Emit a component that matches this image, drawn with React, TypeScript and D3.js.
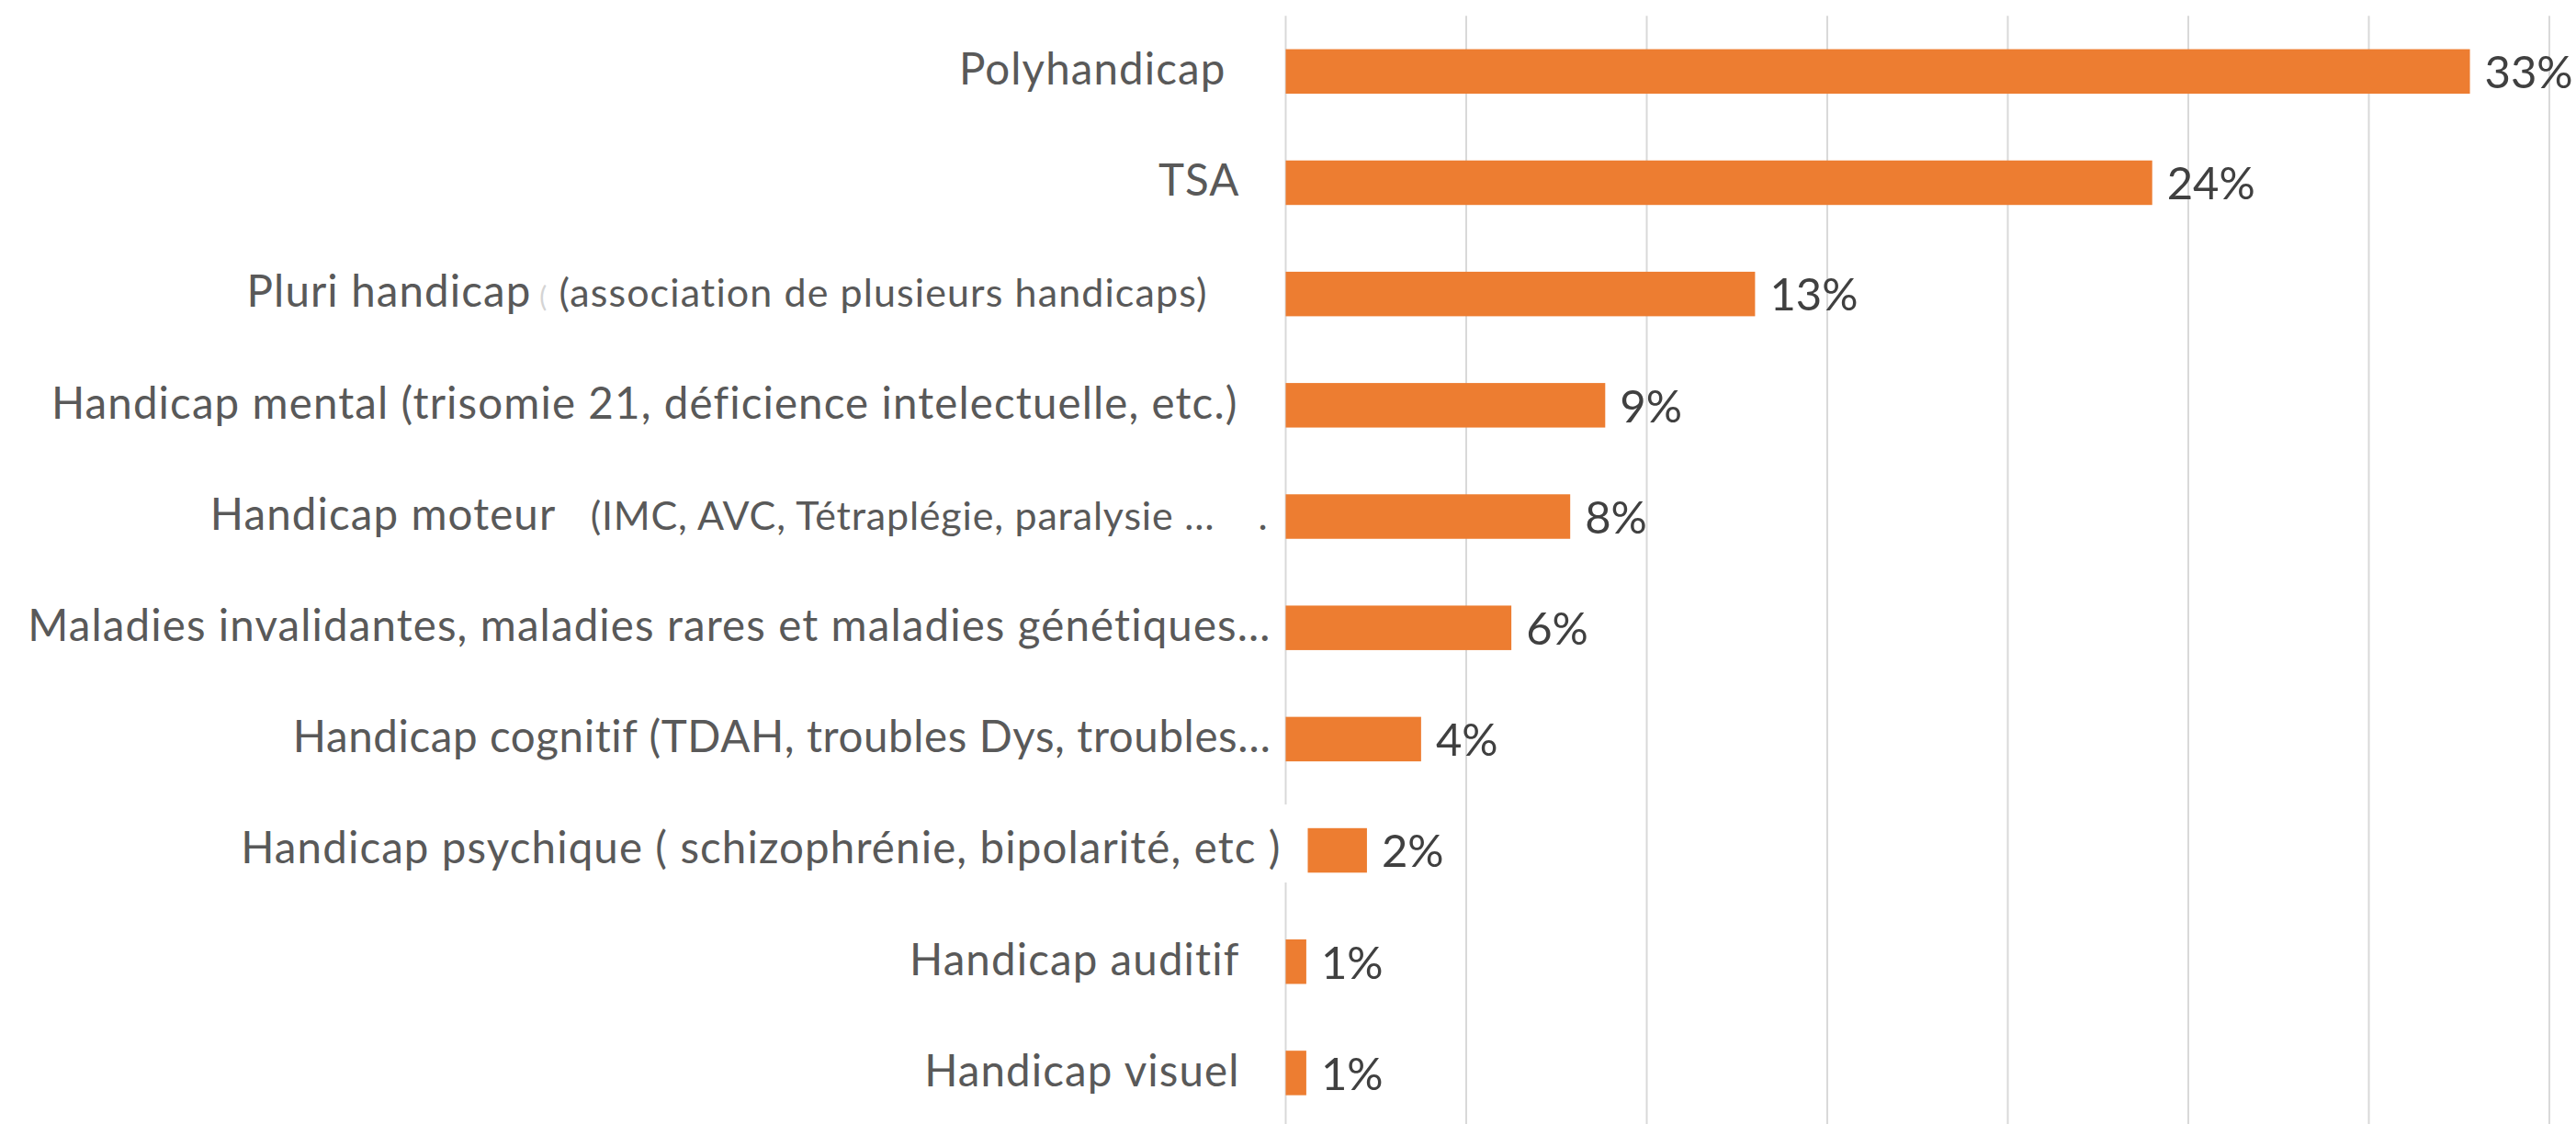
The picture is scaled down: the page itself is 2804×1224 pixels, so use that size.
import React from "react";
import * as d3 from "d3";

// categories, top to bottom
const categories = [
  "Polyhandicap",
  "TSA",
  "Pluri handicap",
  "Handicap mental (trisomie 21, déficience intelectuelle, etc.)",
  "Handicap moteur",
  "Maladies invalidantes, maladies rares et maladies génétiques…",
  "Handicap cognitif (TDAH, troubles Dys, troubles…",
  "Handicap psychique ( schizophrénie, bipolarité, etc )",
  "Handicap auditif",
  "Handicap visuel",
];

// smaller text that follows some category names
const details = [
  "",
  "",
  "(association de plusieurs handicaps)",
  "",
  "(IMC, AVC, Tétraplégie, paralysie …",
  "",
  "",
  "",
  "",
  "",
];

const values = [0.328, 0.24, 0.13, 0.0885, 0.0788, 0.0625, 0.0375, 0.0225, 0.0057, 0.0057];

const ticks = [0, 0.05, 0.1, 0.15, 0.2, 0.25, 0.3, 0.35];

const sp = (n: number) => "\u00A0".repeat(n);

function App() {
  const width = 2804;
  const height = 1224;
  const left = 1399.5;
  const right = 2775;
  const top = 17.2;
  const bottom = 1229;

  const x = d3.scaleLinear().domain([0, 0.35]).range([left, right]);
  const y = d3
    .scaleBand<string>()
    .domain(categories)
    .range([top, bottom])
    .paddingInner(0.6)
    .paddingOuter(0.3);

  const fmt = d3.format(".0%");
  const font = "Lato, 'Open Sans', sans-serif";

  // gap between the axis and the end of each category label
  const labelGap = [65, 50, 85, 52, 19, 16, 16, 5, 50, 50];

  const psy = categories[7];
  const psyMid = (y(psy) as number) + y.bandwidth() / 2;

  return (
    <svg
      width={width}
      height={height}
      style={{ position: "absolute", left: 0, top: 0, background: "#fff" }}
    >
      <g>
        {ticks.map((t) => (
          <line
            key={t}
            x1={x(t)}
            x2={x(t)}
            y1={top}
            y2={height}
            stroke="#d9d9d9"
            strokeWidth={2}
          />
        ))}
      </g>
      <g>
        {categories.map((c, i) => (
          <rect
            key={c}
            x={x(0)}
            y={y(c)}
            width={x(values[i]) - x(0)}
            height={y.bandwidth()}
            fill="#ED7D31"
          />
        ))}
      </g>
      {/* label box of the psychique row hides the axis and the start of its bar */}
      <rect x={x(0) - 6} y={psyMid - 50} width={30} height={85} fill="#fff" />
      <g fontFamily={font} fill="#595959">
        {categories.map((c, i) => {
          const mid = (y(c) as number) + y.bandwidth() / 2;
          return (
            <text
              key={c}
              x={x(0) - labelGap[i]}
              y={mid + 14.3}
              textAnchor="end"
              fontSize={47.5}
              letterSpacing={i === 6 ? 0.6 : 1.1}
            >
              {c}
              {i === 2 && <tspan fill="#d4d4d4" fontSize={30}>{" ("}</tspan>}
              {i === 4 && sp(2)}
              {details[i] && (
                <tspan fontSize={43} letterSpacing={i === 4 ? 0.8 : 1.1}>
                  {" " + details[i] + (i === 4 ? sp(4) + "." : "")}
                </tspan>
              )}
            </text>
          );
        })}
      </g>
      <g fontFamily={font} fill="#404040" fontSize={49}>
        {categories.map((c, i) => (
          <text
            key={c}
            x={x(values[i]) + 16}
            y={(y(c) as number) + y.bandwidth() / 2 + 18.3}
          >
            {fmt(values[i])}
          </text>
        ))}
      </g>
    </svg>
  );
}

export default App;
